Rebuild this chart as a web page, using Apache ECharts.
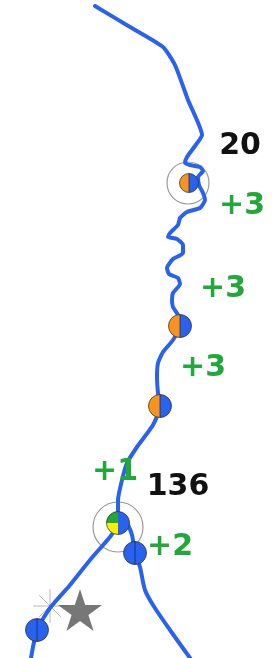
<!DOCTYPE html>
<html><head><meta charset="utf-8">
<script src="https://cdn.jsdelivr.net/npm/echarts@6/dist/echarts.min.js"></script>
<style>html,body{margin:0;padding:0;background:#fff}#c{width:275px;height:658px}</style>
</head><body><div id="c"></div>
<script>
// Route data (map coordinates)
const mainX = [95,130,163,175,188,202,195,187,185,190,200,203,198,199,203,205,200,187,180,178,170,168,177,183,183,173,167,169,178,180,173,172,173,178,180,173,163,158,157,158,160,153,137,127,122,118,118];
const mainY = [6,27,47,65,100,135,146,157,163,165,167,171,177,185,193,200,208,212,218,225,233,237,239,245,253,259,268,274,278,284,293,300,307,315,326,340,352,363,377,393,407,425,447,463,480,500,520];
const leftX = [118,110,90,70,50,37,31];
const leftY = [525,537,560,585,608,630,658];
const rightX = [122,128,132,135,140,145,153,170,190];
const rightY = [515,525,535,553,567,590,605,630,658];

// Stop markers
const markerX = [189,180,160,135,37,118];
const markerY = [183,326,406,553,630,523];
const markerKind = ['halfSmall','half','half','blue','blue','tri'];

// Highlight rings
const ringX = [188,118];
const ringY = [183,527];
const ringKind = ['small','large'];

// Labels
const labelText = ['20','+3','+3','+3','+1','136','+2'];
const labelX = [240,242,223,203,115,178,170];
const labelY = [146,206,289,368,472,487,547];
const labelKind = ['count','delta','delta','delta','delta','count','delta'];

// Other symbols
const starX = [80], starY = [610];
const burstX = [50], burstY = [606];

const BLUE = '#2862ee', ORANGE = '#f7931e', GREEN = '#22a83a', YELLOW = '#ffee00';
const MARKER_R = {halfSmall: 9.5, half: 11.5, blue: 11.5, tri: 11.5};
const RING_R = {small: 21, large: 25};

const zip = (xs, ys) => xs.map((x, i) => [x, ys[i]]);

function sector(cx, cy, r, a0, a1, fill) {
  return {type: 'sector', shape: {cx, cy, r, r0: 0, startAngle: a0, endAngle: a1, clockwise: true}, style: {fill}};
}
function renderMarker(params, api) {
  const p = api.coord([api.value(0), api.value(1)]);
  const kind = markerKind[params.dataIndex];
  const r = MARKER_R[kind];
  const cx = p[0], cy = p[1];
  const PI = Math.PI;
  const ch = [];
  if (kind === 'tri') {
    ch.push(sector(cx, cy, r, -PI / 2, PI / 2, BLUE));
    ch.push(sector(cx, cy, r, PI, 1.5 * PI, GREEN));
    ch.push(sector(cx, cy, r, PI / 2, PI, YELLOW));
  } else if (kind === 'blue') {
    ch.push({type: 'circle', shape: {cx, cy, r}, style: {fill: BLUE}});
  } else {
    ch.push(sector(cx, cy, r, PI / 2, 1.5 * PI, ORANGE));
    ch.push(sector(cx, cy, r, -PI / 2, PI / 2, BLUE));
  }
  ch.push({type: 'circle', shape: {cx, cy, r}, style: {fill: null, stroke: 'rgba(50,50,50,0.75)', lineWidth: 1}});
  if (kind !== 'tri') ch.push({type: 'line', shape: {x1: cx, y1: cy - r, x2: cx, y2: cy + r}, style: {stroke: 'rgba(30,30,60,0.7)', lineWidth: 1}});
  return {type: 'group', children: ch};
}
function renderRing(params, api) {
  const p = api.coord([api.value(0), api.value(1)]);
  const r = RING_R[ringKind[params.dataIndex]];
  return {type: 'circle', shape: {cx: p[0], cy: p[1], r}, style: {fill: 'rgba(255,255,255,0.6)', stroke: '#9a9a9a', lineWidth: 1.2}};
}
function renderLabel(params, api) {
  const p = api.coord([api.value(0), api.value(1)]);
  const i = params.dataIndex;
  const isCount = labelKind[i] === 'count';
  return {type: 'text', x: p[0], y: p[1], style: {
    text: labelText[i], fill: isCount ? '#111' : GREEN,
    font: 'bold 30px "DejaVu Sans"', align: 'center', verticalAlign: 'middle'}};
}
const lineStyle = {color: BLUE, width: 4, cap: 'round', join: 'round'};
const routeSeries = (xs, ys, smooth) => ({type: 'line', data: zip(xs, ys), symbol: 'none', smooth, lineStyle, z: 3, silent: true});

const chart = echarts.init(document.getElementById('c'), null, {renderer: 'canvas'});
chart.setOption({
  animation: false,
  grid: {left: 0, right: 0, top: 0, bottom: 0},
  xAxis: {type: 'value', min: 0, max: 275, show: false},
  yAxis: {type: 'value', min: 0, max: 658, inverse: true, show: false},
  series: [
    {type: 'custom', renderItem: renderRing, data: zip(ringX, ringY), z: 2, clip: false},
    routeSeries(mainX, mainY, 0.18),
    routeSeries(leftX, leftY, 0.2),
    routeSeries(rightX, rightY, 0.3),
    {type: 'scatter', data: zip(burstX, burstY), symbol: 'path://M50,0L50,100M0,50L100,50M18,18L82,82M82,18L18,82',
      symbolSize: 34, itemStyle: {color: 'none', borderColor: '#aaa', borderWidth: 1}, z: 2, silent: true},
    {type: 'scatter', data: zip(starX, starY),
      symbol: 'path://M100,0L122.45,69.1L195.11,69.1L136.33,111.8L158.78,180.9L100,138.2L41.22,180.9L63.67,111.8L4.89,69.1L77.55,69.1Z',
      symbolSize: [44, 42], itemStyle: {color: '#555'}, z: 4, silent: true},
    {type: 'custom', renderItem: renderMarker, data: zip(markerX, markerY), z: 5, clip: false},
    {type: 'custom', renderItem: renderLabel, data: zip(labelX, labelY), z: 6, clip: false}
  ]
});
</script>
</body></html>
